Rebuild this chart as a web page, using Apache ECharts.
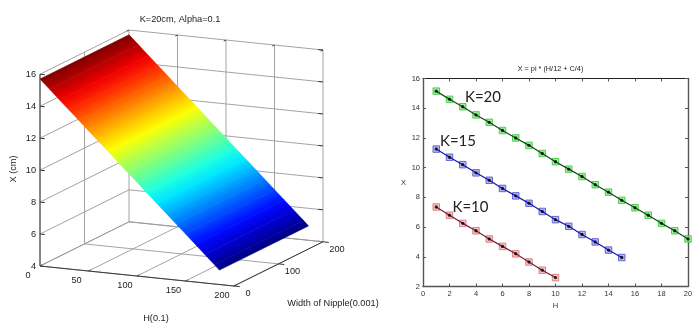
<!DOCTYPE html>
<html><head><meta charset="utf-8">
<style>html,body{margin:0;padding:0;background:#fff}#c{width:700px;height:329px}</style>
<script src="https://cdn.jsdelivr.net/npm/echarts@6/dist/echarts.min.js"></script>
</head><body><div id="c"></div>
<script>
// ---- right panel data ----
const hK20 = [1,2,3,4,5,6,7,8,9,10,11,12,13,14,15,16,17,18,19,20];
const xK20 = [15.15,14.6,14.1,13.55,13.05,12.5,12.0,11.5,10.95,10.4,9.9,9.4,8.85,8.35,7.8,7.3,6.8,6.25,5.75,5.2];
const hK15 = [1,2,3,4,5,6,7,8,9,10,11,12,13,14,15];
const xK15 = [11.25,10.7,10.2,9.65,9.15,8.6,8.1,7.6,7.05,6.5,6.05,5.5,5.0,4.45,3.95];
const hK10 = [1,2,3,4,5,6,7,8,9,10];
const xK10 = [7.35,6.8,6.25,5.75,5.2,4.7,4.2,3.65,3.1,2.6];
// ---- left panel data ----
const surfaceH = [0,10,20,30,40,50,60,70,80,90,100,110,120,130,140,150,160,170,180,185];
const surfaceX = [15.7,15.12,14.53,13.95,13.37,12.78,12.2,11.62,11.03,10.45,9.87,9.28,8.7,8.12,7.53,6.95,6.37,5.78,5.2,4.9];
const surfaceWidth = [0,200];
const hTicks = [0,50,100,150,200];
const wTicks = [0,100,200];
const xTicks = [4,6,8,10,12,14,16];

const FONT = '"Liberation Sans", Arial, sans-serif';
// Oblique view of the 3-D box onto a 2-D plane, in data units of hidden axes
const planeX = (h,w) => h + w*0.459;
const planeY = (h,w,x) => x - h*0.00625 + w*0.01384;
const jet = t => {
  const f = (a) => Math.round(255*Math.max(0,Math.min(1,1.5-Math.abs(4*t-a))));
  return `rgb(${f(3)},${f(2)},${f(1)})`;
};
const xMin = Math.min(...surfaceX), xMax = Math.max(...surfaceX);
const cx = v => (v-xMin)/(xMax-xMin);

// surface strips
const strips = surfaceH.slice(0,-1).map((h,i)=>[h,surfaceH[i+1],surfaceX[i],surfaceX[i+1]]);
// box segments: h1,w1,x1,h2,w2,x2,dark
const GRID=0, AXIS=1;
const segs = [];
xTicks.forEach(x=>{
  segs.push([0,0,x,0,200,x,GRID]);
  segs.push([0,200,x,200,200,x,GRID]);
  segs.push([0,0,x,5,0,x,AXIS]);
  segs.push([195,200,x,200,200,x,AXIS]);
});
hTicks.forEach(h=>{
  segs.push([h,0,4,h,200,4,GRID]);
  if(h>0) segs.push([h,200,4,h,200,16,GRID]);
  segs.push([h,0,4,h,5,4,AXIS]);
  segs.push([h,200,16,h,195,16,AXIS]);
});
wTicks.forEach(w=>{
  segs.push([0,w,4,200,w,4,GRID]);
  segs.push([0,w,4,0,w,16,GRID]);
  segs.push([200,w,4,206,w,4,AXIS]);
});
segs.push([0,0,4,200,0,4,AXIS]);      // H axis
segs.push([200,0,4,200,200,4,AXIS]);  // W axis
segs.push([0,0,4,0,0,16,AXIS]);       // X axis

const labels3d = [
  ...xTicks.map(x=>[0,0,x,String(x),-4,0,'right']),
  ...hTicks.map(h=>[h,0,4,String(h),-12,9.5,'center']),
  ...wTicks.map(w=>[200,w,4,String(w),14,7.5,'center'])
];

const panel = (txt,x,y,fs,extra) => Object.assign({text:txt,left:x,top:y,textAlign:'center',textVerticalAlign:'middle',
  padding:0,itemGap:0,textStyle:{fontFamily:FONT,fontSize:fs,fontWeight:'normal',color:'#222'}},extra||{});
const big = {textStyle:{fontFamily:'Lato',fontSize:15,color:'#222',fontWeight:'normal'}};

const boxAxis = (gridIndex,type,pos,opts)=>Object.assign({
  type:'value',gridIndex,position:pos,
  axisLine:{show:true,onZero:false,lineStyle:{color:'#555',width:1.4}},
  axisTick:{show:true,inside:true,length:3,lineStyle:{color:'#555',width:1}},
  splitLine:{show:false},
  axisLabel:{show:false}
},opts);

const lab = {show:true,fontFamily:FONT,fontSize:7.5,color:'#333'};

const squareSeries = (name,hs,xs,fill,border)=>({
  name,type:'scatter',xAxisIndex:1,yAxisIndex:1,data:hs.map((h,i)=>[h,xs[i]]),
  symbol:'rect',symbolSize:6.5,itemStyle:{color:fill,borderColor:border,borderWidth:1},z:3,silent:true
});
const lineSeries = (name,hs,xs,lineColor)=>({
  name,type:'line',xAxisIndex:1,yAxisIndex:1,data:hs.map((h,i)=>[h,xs[i]]),
  lineStyle:{color:lineColor,width:1.2},symbol:'none',z:4,silent:true
});
const dotSeries = (name,hs,xs)=>({
  name,type:'scatter',xAxisIndex:1,yAxisIndex:1,data:hs.map((h,i)=>[h,xs[i]]),
  symbol:'circle',symbolSize:3.4,itemStyle:{color:'#000'},z:5,silent:true
});

const option = {
  animation:false,
  backgroundColor:'#fff',
  title:[
    panel('K=20cm, Alpha=0.1',180,19,9.2),
    panel('X = pi * (H/12 + C/4)',550.5,69,7.3),
    panel('H(0.1)',156,318,9.2),
    panel('Width of Nipple(0.001)',333,303,9.2),
    panel('K=20',483,97,15,big),
    panel('K=15',458,141,15,big),
    panel('K=10',470.5,207,15,big)
  ],
  graphic:[{type:'text',x:13,y:169,rotation:Math.PI/2,style:{text:'X (cm)',font:'9.2px '+FONT,fill:'#222',textAlign:'center',textVerticalAlign:'middle'}}],
  grid:[
    {left:40,top:30,width:283,height:256,containLabel:false},
    {left:423,top:78.5,width:265,height:208,containLabel:false}
  ],
  xAxis:[
    {type:'value',gridIndex:0,min:0,max:291.8,show:false},
    boxAxis(1,'x','bottom',{min:0,max:20,interval:2,
      axisLabel:Object.assign({},lab,{margin:3}),name:'H',nameLocation:'middle',nameGap:13,
      nameTextStyle:{fontFamily:FONT,fontSize:7.5,color:'#333'}}),
    boxAxis(1,'x','top',{min:0,max:20,interval:2,axisLine:{show:true,onZero:false,lineStyle:{color:'#222',width:1}}})
  ],
  yAxis:[
    {type:'value',gridIndex:0,min:2.75,max:18.77,show:false},
    boxAxis(1,'y','left',{min:2,max:16,interval:2,
      axisLabel:Object.assign({},lab,{margin:3}),name:'X',nameLocation:'middle',nameGap:17,nameRotate:0,
      nameTextStyle:{fontFamily:FONT,fontSize:7.5,color:'#333'}}),
    boxAxis(1,'y','right',{min:2,max:16,interval:2})
  ],
  series:[
    {type:'custom',name:'box',xAxisIndex:0,yAxisIndex:0,data:segs,clip:false,silent:true,z:1,
      encode:{x:0,y:1},
      renderItem:(p,api)=>{
        const v=i=>api.value(i);
        const a=api.coord([planeX(v(0),v(1)),planeY(v(0),v(1),v(2))]);
        const b=api.coord([planeX(v(3),v(4)),planeY(v(3),v(4),v(5))]);
        const dark=v(6)===AXIS;
        return {type:'line',shape:{x1:a[0],y1:a[1],x2:b[0],y2:b[1]},
          style:{stroke:dark?'#3a3a3a':'#999999',lineWidth:dark?1:0.9,fill:null}};
      }},
    {type:'custom',name:'surface',xAxisIndex:0,yAxisIndex:0,data:strips,clip:false,silent:true,z:2,
      encode:{x:0,y:2},
      renderItem:(p,api)=>{
        const h0=api.value(0),h1=api.value(1),x0=api.value(2),x1=api.value(3);
        const w0=surfaceWidth[0],w1=surfaceWidth[1];
        const P=(h,w,x)=>api.coord([planeX(h,w),planeY(h,w,x)]);
        const a=P(h0,w0,x0),b=P(h1,w0,x1),c=P(h1,w1,x1),d=P(h0,w1,x0);
        // gradient runs perpendicular to the constant-H edge
        const ex=d[0]-a[0],ey=d[1]-a[1],len=Math.hypot(ex,ey);
        const nx=-ey/len,ny=ex/len,dot=(b[0]-a[0])*nx+(b[1]-a[1])*ny;
        const fill=new echarts.graphic.LinearGradient(a[0],a[1],a[0]+nx*dot,a[1]+ny*dot,
          [{offset:0,color:jet(cx(x0))},{offset:1,color:jet(cx(x1))}],true);
        return {type:'polygon',shape:{points:[a,b,c,d]},style:{fill,stroke:fill,lineWidth:0.6}};
      }},
    {type:'custom',name:'labels',xAxisIndex:0,yAxisIndex:0,data:labels3d.map(l=>l.slice(0,3)),clip:false,silent:true,z:3,
      encode:{x:0,y:2},
      renderItem:(p,api)=>{
        const l=labels3d[p.dataIndex];
        const a=api.coord([planeX(l[0],l[1]),planeY(l[0],l[1],l[2])]);
        return {type:'text',x:a[0]+l[4],y:a[1]+l[5],style:{text:l[3],fill:'#222',font:'9.2px '+FONT,textAlign:l[6],textVerticalAlign:'middle'}};
      }},
    squareSeries('K=20 markers',hK20,xK20,'#8fe88a','#35c435'),
    lineSeries('K=20',hK20,xK20,'#0b4d12'),
    dotSeries('K=20 pts',hK20,xK20),
    squareSeries('K=15 markers',hK15,xK15,'#a8a8ee','#4a4ad0'),
    lineSeries('K=15',hK15,xK15,'#1515b8'),
    dotSeries('K=15 pts',hK15,xK15),
    squareSeries('K=10 markers',hK10,xK10,'#f3bcbc','#d86a6a'),
    lineSeries('K=10',hK10,xK10,'#7a1a40'),
    dotSeries('K=10 pts',hK10,xK10)
  ]
};
const chart = echarts.init(document.getElementById('c'),null,{renderer:'canvas'});
chart.setOption(option);
</script></body></html>
